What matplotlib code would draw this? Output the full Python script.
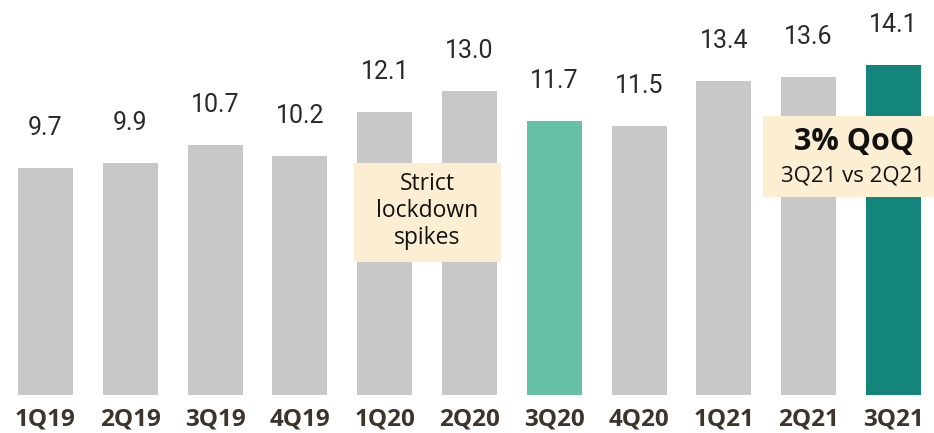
import matplotlib
matplotlib.use("Agg")
import matplotlib.pyplot as plt
from matplotlib.patches import Rectangle

quarters = ["1Q19", "2Q19", "3Q19", "4Q19", "1Q20", "2Q20", "3Q20", "4Q20", "1Q21", "2Q21", "3Q21"]
values = [9.7, 9.9, 10.7, 10.2, 12.1, 13.0, 11.7, 11.5, 13.4, 13.6, 14.1]
bar_colors = ["#c8c8c8"] * 6 + ["#66c0a6"] + ["#c8c8c8"] * 3 + ["#14857a"]

W, H = 934, 433
fig = plt.figure(figsize=(W / 100, H / 100), dpi=100)
base_px = 395
px_per_unit = 23.4
ax = fig.add_axes([0, (H - base_px) / H, 1, base_px / H])
ax.set_ylim(0, base_px / px_per_unit)
spacing = 84.8
x0 = 45.5
ax.set_xlim(-x0 / spacing, (W - x0) / spacing)

xs = list(range(len(quarters)))
ax.bar(xs, values, width=0.65, color=bar_colors)
for x, v in zip(xs, values):
    ax.text(x, v + 40 / px_per_unit, f"{v:.1f}", ha="center", va="center",
            fontsize=18, family="Roboto", color="#2a2a2a")

ax.set_xticks(xs)
ax.set_xticklabels(quarters, fontsize=17.5, family="Open Sans", fontweight="bold", color="#3d342b")
ax.tick_params(axis="x", length=0, pad=9)
ax.set_yticks([])
for s in ax.spines.values():
    s.set_visible(False)

def fig_rect(x1, y1, x2, y2):
    r = Rectangle((x1 / W, 1 - y2 / H), (x2 - x1) / W, (y2 - y1) / H,
                  transform=fig.transFigure, facecolor="#fbeed2", edgecolor="none", zorder=5)
    fig.patches.append(r)

fig_rect(354, 163, 501, 262)
fig.text(427 / W, 1 - 211 / H, "Strict\nlockdown\nspikes", ha="center", va="center",
         fontsize=16.5, family="Open Sans", color="#111111", linespacing=1.15, zorder=6)

fig_rect(763, 116, 934, 197)
fig.text(854 / W, 1 - 142 / H, "3% QoQ", ha="center", va="center",
         fontsize=22, family="Open Sans", fontweight="bold", color="#111111", zorder=6)
fig.text(853 / W, 1 - 176 / H, "3Q21 vs 2Q21", ha="center", va="center",
         fontsize=16, family="Open Sans", color="#111111", zorder=6)

fig.savefig("out.png", dpi=100, facecolor="white")
